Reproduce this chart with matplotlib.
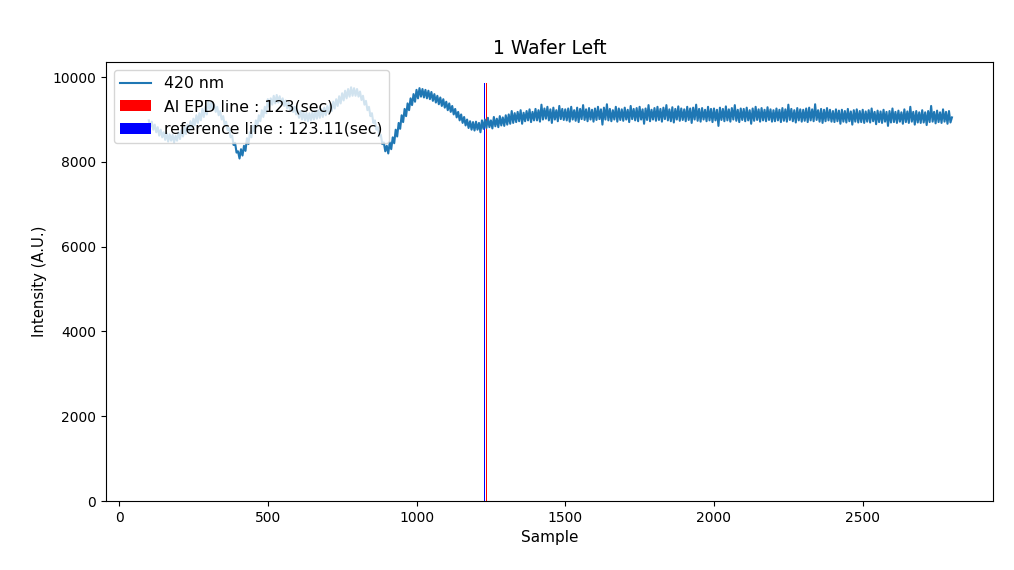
import numpy as np
import matplotlib
matplotlib.use("Agg")
import matplotlib.pyplot as plt

# sample index of the 420 nm trace (every 5th sample)
sample = np.arange(100, 2805, 5)

intensity = [
    8980, 8820, 8950, 8760, 8880, 8700, 8820, 8620, 8760, 8580, 8700, 8520, 8680, 8480, 8650, 8500, 8640, 8460, 8620, 8500,
    8700, 8540, 8760, 8600, 8820, 8660, 8880, 8720, 8960, 8800, 9020, 8860, 9100, 8920, 9150, 8980, 9250, 9060, 9300, 9120,
    9420, 9250, 9400, 9230, 9350, 9180, 9300, 9100, 9200, 9000, 9080, 8880, 8950, 8750, 8800, 8580, 8620, 8400, 8450, 8220,
    8250, 8080, 8300, 8150, 8380, 8260, 8560, 8420, 8700, 8580, 8860, 8720, 8980, 8850, 9100, 8960, 9220, 9060, 9300, 9150,
    9480, 9300, 9500, 9350, 9560, 9380, 9580, 9400, 9550, 9380, 9500, 9320, 9450, 9260, 9400, 9220, 9350, 9180, 9300, 9120,
    9220, 9040, 9200, 9000, 9180, 8980, 9160, 8960, 9150, 8980, 9170, 9000, 9200, 9020, 9220, 9040, 9250, 9060, 9280, 9100,
    9320, 9150, 9360, 9200, 9420, 9260, 9480, 9320, 9550, 9380, 9620, 9450, 9680, 9500, 9720, 9540, 9760, 9560, 9740, 9560,
    9720, 9540, 9660, 9460, 9560, 9350, 9440, 9220, 9300, 9080, 9150, 8920, 8980, 8760, 8820, 8600, 8640, 8420, 8460, 8250,
    8380, 8200, 8460, 8300, 8580, 8440, 8760, 8600, 8920, 8780, 9100, 8940, 9250, 9080, 9380, 9220, 9500, 9340, 9600, 9420,
    9700, 9500, 9740, 9540, 9720, 9520, 9700, 9500, 9680, 9480, 9650, 9440, 9600, 9400, 9560, 9360, 9520, 9320, 9480, 9280,
    9420, 9220, 9380, 9180, 9320, 9120, 9250, 9050, 9180, 8980, 9120, 8920, 9060, 8860, 9000, 8800, 8960, 8760, 8940, 8740,
    8950, 8760, 8920, 8700, 8980, 8780, 9000, 8800, 9040, 8820, 8980, 8790, 9060, 8840, 9020, 8820, 9080, 8860, 9050, 8850,
    9100, 8880, 9120, 8900, 9200, 8920, 9150, 8940, 9180, 8960, 9220, 8900, 9160, 8960, 9200, 8980, 9240, 8940, 9180, 8980,
    9250, 8980, 9220, 8950, 9350, 9000, 9260, 9020, 9300, 8980, 9240, 8920, 9280, 9000, 9220, 8960, 9320, 9010, 9250, 8990,
    9240, 8980, 9260, 8950, 9300, 9000, 9220, 8970, 9280, 8940, 9250, 9010, 9340, 8990, 9240, 8960, 9270, 9000, 9230, 8950,
    9260, 8990, 9300, 9010, 9240, 8880, 9280, 9000, 9360, 8980, 9250, 8960, 9220, 9000, 9300, 8950, 9260, 8990, 9240, 8970,
    9280, 9000, 9230, 8940, 9320, 9010, 9250, 8980, 9270, 8960, 9300, 9000, 9240, 8900, 9260, 8990, 9340, 8960, 9230, 9000,
    9270, 8970, 9300, 8990, 9250, 8950, 9280, 9010, 9340, 8980, 9240, 8960, 9290, 8930, 9250, 9000, 9310, 8970, 9260, 8990,
    9240, 8960, 9300, 8990, 9260, 8920, 9280, 9000, 9350, 8970, 9250, 8950, 9270, 9000, 9230, 8960, 9300, 8980, 9250, 8940,
    9260, 8980, 9230, 8850, 9280, 8990, 9250, 8960, 9310, 8980, 9240, 8950, 9270, 9000, 9340, 8970, 9230, 8940, 9260, 8990,
    9250, 8960, 9280, 8980, 9220, 8900, 9260, 8970, 9300, 8990, 9240, 8950, 9270, 8980, 9230, 8960, 9290, 8990, 9240, 8950,
    9220, 8960, 9260, 8980, 9230, 8940, 9270, 8970, 9240, 8950, 9350, 8990, 9250, 8960, 9220, 8930, 9270, 8980, 9240, 8950,
    9230, 8970, 9260, 8940, 9280, 8980, 9240, 8960, 9360, 8990, 9220, 8950, 9250, 8920, 9230, 8960, 9270, 8980, 9230, 8950,
    9200, 8940, 9240, 8960, 9210, 8900, 9230, 8950, 9200, 8930, 9250, 8960, 9190, 8880, 9220, 8950, 9240, 8930, 9200, 8940,
    9230, 8920, 9190, 8950, 9220, 8930, 9260, 8960, 9180, 8890, 9210, 8940, 9190, 8920, 9230, 8950, 9180, 8850, 9200, 8930,
    9260, 8940, 9180, 8920, 9210, 8950, 9170, 8900, 9240, 8940, 9190, 8920, 9300, 8950, 9180, 8880, 9200, 8930, 9170, 8920,
    9220, 8930, 9170, 8870, 9200, 8940, 9320, 8950, 9180, 8910, 9210, 8940, 9170, 8920, 9240, 8950, 9180, 8900, 9200, 8930,
    9050,
]

ref_x = 1229      # reference line position (sample)
ai_x = 1236       # AI EPD line position (sample)
line_h = 9850     # height of the marker lines

fig = plt.figure(figsize=(10.14, 5.7), dpi=100)
ax = fig.add_axes([0.1045, 0.121, 0.8745, 0.770])

ax.plot(sample, intensity, color='#1f77b4', linewidth=1.5, label='420 nm')
ax.bar([ai_x], [line_h], width=3, color='red', label='AI EPD line : 123(sec)')
ax.bar([ref_x], [line_h], width=3, color='blue', label='reference line : 123.11(sec)')

ax.set_xlim(-44, 2937)
ax.set_ylim(0, 10354)
ax.set_title('1 Wafer Left', fontsize=13.5)
ax.set_xlabel('Sample', fontsize=11)
ax.set_ylabel('Intensity (A.U.)', fontsize=10.7)
ax.legend(loc='upper left', fontsize=11.3)

fig.savefig('out.png', dpi=100)
